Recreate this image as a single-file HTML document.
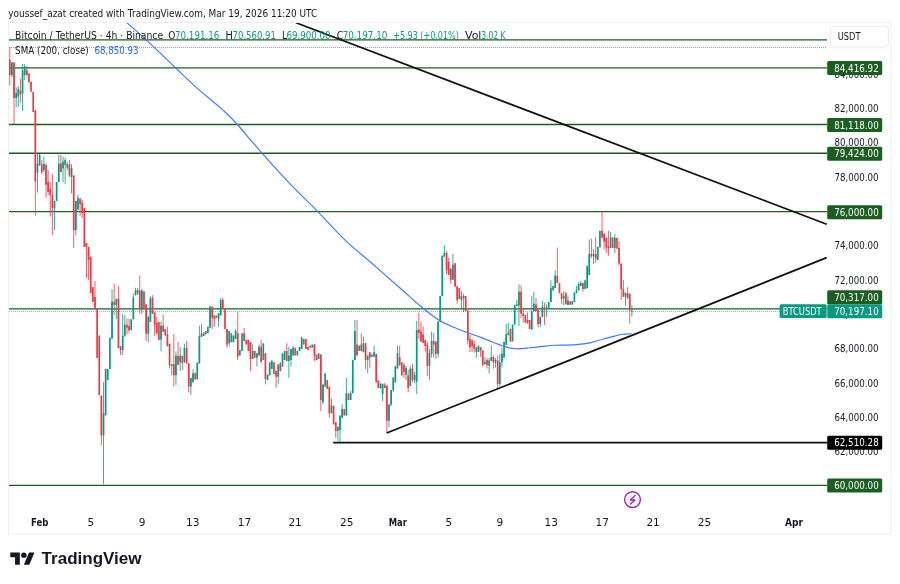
<!DOCTYPE html><html><head><meta charset="utf-8"><style>html,body{margin:0;padding:0;background:#fff;width:900px;height:584px;overflow:hidden}svg{display:block}text{font-family:'DejaVu Sans', 'Liberation Sans', sans-serif}</style></head><body>
<svg width="900" height="584" viewBox="0 0 900 584">
<rect width="900" height="584" fill="#fff"/>
<text x="8.34" y="16.9" font-size="11" fill="#131722" textLength="308.92" lengthAdjust="spacingAndGlyphs">youssef_azat created with TradingView.com, Mar 19, 2026 11:20 UTC</text>
<rect x="8.5" y="22.5" width="882.5" height="511.5" fill="none" stroke="#efefef" stroke-width="1"/>
<defs><clipPath id="cp"><rect x="9" y="23" width="818" height="484"/></clipPath></defs>
<g clip-path="url(#cp)">
<path d="M9 47.4H827" stroke="#9598a1" stroke-width="1" stroke-dasharray="1 1"/>
<path d="M9 311.5H780" stroke="#089981" stroke-opacity="0.55" stroke-width="1" stroke-dasharray="1 1"/>
<path d="M9 39.9H827" stroke="#1b5e20" stroke-width="1.4"/>
<path d="M9 67.85H827" stroke="#1b5e20" stroke-width="1.4"/>
<path d="M9 124.45H827" stroke="#1b5e20" stroke-width="1.4"/>
<path d="M9 153.2H827" stroke="#1b5e20" stroke-width="1.4"/>
<path d="M9 211.6H827" stroke="#1b5e20" stroke-width="1.4"/>
<path d="M9 308.9H827" stroke="#1b5e20" stroke-width="1.4"/>
<path d="M9 485.4H827" stroke="#1b5e20" stroke-width="1.4"/>
<path d="M333.2 442.6H827" stroke="#111" stroke-width="1.8"/>
<path d="M11.90 62.00V77.00M16.16 87.20V107.30M18.30 86.00V107.00M22.56 64.00V111.00M24.69 64.00V80.00M37.47 154.00V192.50M39.60 154.00V166.00M43.86 156.60V172.00M54.51 201.00V230.00M58.77 154.80V182.00M63.04 156.60V182.00M65.17 157.40V184.00M67.30 162.00V170.00M71.56 164.00V193.40M75.82 201.00V235.30M77.95 195.00V209.60M103.52 382.20V484.40M112.04 289.20V338.50M116.30 298.80V319.00M122.69 313.80V355.00M124.82 315.00V337.00M133.34 294.00V319.30M135.47 287.80V295.30M137.60 287.80V295.00M141.86 289.00V313.80M148.26 316.60V342.60M150.39 296.00V322.00M161.04 321.40V351.40M171.69 364.00V375.30M175.95 351.40V384.80M180.21 347.00V371.00M184.47 343.70V362.50M190.87 377.90V395.00M193.00 369.30V382.20M199.39 325.70V363.40M201.52 324.00V336.80M210.04 305.50V327.80M218.56 313.30V326.70M220.69 297.80V315.50M229.21 331.10V346.70M235.61 328.90V338.90M252.65 344.40V358.90M256.91 353.30V366.70M259.04 344.40V355.50M271.82 360.00V368.90M278.22 364.40V384.40M288.87 346.70V377.80M291.00 348.90V366.70M293.13 345.50V355.50M301.65 336.70V348.90M322.96 384.40V404.40M331.48 398.90V413.30M337.87 426.70V441.10M340.00 415.50V442.20M342.13 404.40V417.80M346.39 377.80V415.50M350.65 391.10V400.00M354.91 320.00V360.00M363.44 336.70V352.20M367.70 355.50V373.30M374.09 345.50V356.70M380.48 383.00V389.00M382.61 383.80V401.30M389.00 404.40V427.00M391.13 390.00V406.00M393.26 377.60V392.00M395.39 366.30V383.00M397.52 345.70V368.40M406.05 366.00V380.00M410.31 366.00V386.00M414.57 372.00V383.00M416.70 320.80V393.80M429.48 348.80V379.60M431.61 331.60V357.40M438.00 321.50V357.40M442.26 255.00V296.00M444.40 245.20V257.00M452.92 253.70V280.00M461.44 291.00V308.00M476.35 347.20V357.70M484.87 357.00V364.20M489.14 357.80V373.40M491.27 345.30V361.00M495.53 357.80V367.60M499.79 354.20V386.30M501.92 348.00V367.60M506.18 323.90V345.00M508.31 322.70V335.30M514.70 304.40V324.40M516.83 300.00V306.10M518.96 284.30V326.00M531.75 295.80V329.60M533.88 291.80V311.30M540.27 317.00V327.30M542.40 301.00V317.00M546.66 304.40V317.00M550.92 280.30V302.00M555.18 270.40V288.00M563.70 291.00V305.00M567.96 296.20V305.00M576.49 286.00V293.30M578.62 282.40V290.40M580.75 281.00V286.00M589.27 239.50V275.00M593.53 249.00V264.20M610.57 232.00V248.10M614.84 234.00V253.20M625.49 292.80V305.70M631.88 305.10V316.50" stroke="#089981" stroke-width="0.8" fill="none"/><path d="M9.77 47.00V85.70M14.03 62.00V124.20M20.43 78.70V102.60M26.82 66.00V76.00M35.34 110.00V215.60M41.73 160.00V174.00M45.99 163.00V197.70M48.12 170.00V195.00M50.25 182.00V216.50M52.38 173.70V235.30M60.91 154.80V172.00M69.43 160.00V177.00M73.69 175.40V248.00M80.08 197.70V216.00M82.21 200.00V218.00M86.47 243.00V278.00M88.60 247.00V280.00M94.99 281.00V310.00M101.38 395.50V445.50M114.17 283.70V315.20M118.43 285.80V348.00M120.56 346.00V355.00M126.95 318.60V334.40M129.08 319.00V333.00M139.73 275.50V313.80M146.12 304.20V341.20M152.52 295.30V313.80M154.65 312.50V335.80M156.78 317.00V333.40M163.17 314.60V331.70M165.30 329.00V336.00M167.43 326.50V346.20M169.56 343.70V368.50M173.82 334.20V386.50M178.08 342.00V365.00M182.34 355.70V370.20M186.60 341.00V363.40M188.73 363.40V392.50M212.17 306.70V328.90M214.30 315.50V326.70M222.82 297.80V308.90M227.08 328.90V347.80M237.74 312.20V360.00M244.13 327.80V341.10M250.52 342.20V371.10M261.17 340.00V362.20M265.43 353.30V384.40M276.09 371.10V387.80M280.35 362.20V371.10M286.74 343.30V361.10M314.43 344.40V361.10M320.83 354.40V411.10M329.35 386.70V417.80M335.74 422.20V437.80M357.04 320.00V355.50M361.31 333.30V351.10M365.57 343.30V368.90M369.83 352.20V367.80M376.22 354.00V383.00M378.35 380.00V388.00M384.74 383.00V388.00M386.87 385.80V433.20M399.65 345.70V365.30M403.92 363.00V378.00M408.18 370.00V392.00M412.44 364.00V382.00M418.83 313.00V338.70M420.96 321.50V341.60M423.09 326.50V343.00M425.22 340.00V351.60M427.35 341.60V376.00M433.74 333.00V357.40M435.87 341.60V358.80M446.53 251.00V274.00M448.66 258.00V275.00M450.79 268.00V284.00M455.05 263.00V287.00M457.18 286.00V303.70M463.57 293.90V312.20M467.83 310.60V344.50M469.96 335.00V352.00M472.09 339.00V352.00M474.22 340.70V352.80M480.61 347.20V357.00M482.74 350.40V366.70M487.01 357.80V368.50M493.40 355.00V368.50M497.66 355.60V388.00M510.44 328.50V341.60M521.09 285.50V318.00M523.22 307.80V322.70M527.48 312.40V323.90M536.01 298.00V311.30M538.14 310.10V327.30M544.53 302.70V325.00M557.31 247.50V283.10M561.57 293.30V303.50M565.83 291.90V304.20M582.88 283.10V291.90M591.40 238.80V258.00M595.66 237.40V262.80M602.05 212.00V237.80M604.18 233.00V249.40M606.31 237.80V253.00M608.44 230.80V255.80M619.10 241.00V265.40M621.23 263.50V300.00M623.36 280.00V296.90M627.62 287.30V298.80M629.75 293.70V323.70" stroke="#f23645" stroke-width="0.8" fill="none"/><path d="M11.05 62.50h1.7V74.90h-1.7ZM15.31 93.00h1.7V98.00h-1.7ZM17.45 88.80h1.7V96.50h-1.7ZM21.71 70.20h1.7V93.40h-1.7ZM23.84 66.40h1.7V74.90h-1.7ZM36.62 163.40h1.7V172.80h-1.7ZM38.75 154.80h1.7V165.00h-1.7ZM43.01 164.00h1.7V170.00h-1.7ZM53.66 201.00h1.7V208.00h-1.7ZM55.79 182.00h1.7V201.00h-1.7ZM57.92 163.40h1.7V182.00h-1.7ZM62.19 161.70h1.7V168.50h-1.7ZM64.32 160.00h1.7V165.00h-1.7ZM66.45 164.30h1.7V167.70h-1.7ZM70.71 168.00h1.7V177.00h-1.7ZM74.97 201.00h1.7V230.00h-1.7ZM77.10 197.70h1.7V209.60h-1.7ZM102.67 413.30h1.7V435.50h-1.7ZM104.80 368.90h1.7V415.50h-1.7ZM106.93 368.90h1.7V380.00h-1.7ZM109.06 337.80h1.7V369.00h-1.7ZM111.19 301.50h1.7V338.50h-1.7ZM115.45 298.80h1.7V305.00h-1.7ZM121.84 335.80h1.7V350.00h-1.7ZM123.97 324.80h1.7V335.80h-1.7ZM130.36 319.30h1.7V330.30h-1.7ZM132.49 297.40h1.7V319.30h-1.7ZM134.62 290.50h1.7V295.30h-1.7ZM136.75 290.00h1.7V293.50h-1.7ZM141.01 290.50h1.7V309.70h-1.7ZM147.41 316.60h1.7V333.70h-1.7ZM149.54 298.00h1.7V322.00h-1.7ZM160.19 325.70h1.7V339.40h-1.7ZM170.84 364.20h1.7V366.00h-1.7ZM175.10 355.70h1.7V375.30h-1.7ZM179.36 355.70h1.7V362.50h-1.7ZM183.62 348.00h1.7V362.50h-1.7ZM190.02 377.90h1.7V386.50h-1.7ZM192.15 373.60h1.7V382.20h-1.7ZM196.41 362.50h1.7V379.60h-1.7ZM198.54 336.00h1.7V363.40h-1.7ZM200.67 333.40h1.7V336.80h-1.7ZM204.93 331.10h1.7V334.40h-1.7ZM207.06 326.70h1.7V333.30h-1.7ZM209.19 306.70h1.7V327.80h-1.7ZM217.71 313.30h1.7V318.90h-1.7ZM219.84 300.00h1.7V315.50h-1.7ZM228.36 331.10h1.7V343.30h-1.7ZM230.50 333.30h1.7V342.20h-1.7ZM232.63 335.50h1.7V342.20h-1.7ZM234.76 331.10h1.7V338.90h-1.7ZM239.02 350.00h1.7V355.50h-1.7ZM241.15 333.30h1.7V351.10h-1.7ZM251.80 351.10h1.7V358.90h-1.7ZM256.06 353.30h1.7V357.80h-1.7ZM258.19 346.70h1.7V355.50h-1.7ZM262.45 343.30h1.7V360.00h-1.7ZM266.71 374.40h1.7V380.00h-1.7ZM268.84 362.20h1.7V375.50h-1.7ZM270.97 361.10h1.7V368.90h-1.7ZM277.37 364.40h1.7V376.70h-1.7ZM281.63 353.30h1.7V366.70h-1.7ZM283.76 351.10h1.7V360.00h-1.7ZM288.02 355.50h1.7V361.10h-1.7ZM290.15 348.90h1.7V360.00h-1.7ZM292.28 347.80h1.7V355.50h-1.7ZM296.54 351.10h1.7V355.50h-1.7ZM298.67 346.70h1.7V351.10h-1.7ZM300.80 337.80h1.7V348.90h-1.7ZM311.45 344.40h1.7V347.80h-1.7ZM317.85 353.30h1.7V358.90h-1.7ZM322.11 384.40h1.7V402.20h-1.7ZM324.24 373.30h1.7V386.70h-1.7ZM330.63 405.50h1.7V413.30h-1.7ZM337.02 426.70h1.7V431.10h-1.7ZM339.15 415.50h1.7V430.00h-1.7ZM341.28 408.90h1.7V417.80h-1.7ZM345.54 393.30h1.7V415.50h-1.7ZM349.80 393.30h1.7V400.00h-1.7ZM351.93 360.00h1.7V393.30h-1.7ZM354.06 331.10h1.7V360.00h-1.7ZM358.32 345.50h1.7V351.10h-1.7ZM362.59 343.30h1.7V352.20h-1.7ZM366.85 355.50h1.7V360.00h-1.7ZM371.11 354.40h1.7V356.70h-1.7ZM373.24 352.20h1.7V356.70h-1.7ZM379.63 383.80h1.7V388.00h-1.7ZM381.76 383.80h1.7V394.00h-1.7ZM388.15 404.40h1.7V420.80h-1.7ZM390.28 390.00h1.7V404.40h-1.7ZM392.41 377.60h1.7V390.00h-1.7ZM394.54 366.30h1.7V381.70h-1.7ZM396.67 353.00h1.7V368.40h-1.7ZM405.20 368.00h1.7V375.00h-1.7ZM409.46 368.40h1.7V385.80h-1.7ZM413.72 375.00h1.7V380.00h-1.7ZM415.85 330.00h1.7V381.70h-1.7ZM428.63 353.00h1.7V366.00h-1.7ZM430.76 340.90h1.7V353.80h-1.7ZM437.15 321.50h1.7V353.80h-1.7ZM439.28 296.00h1.7V322.00h-1.7ZM441.41 256.00h1.7V296.00h-1.7ZM443.55 253.00h1.7V256.40h-1.7ZM452.07 264.70h1.7V279.70h-1.7ZM460.59 296.00h1.7V300.00h-1.7ZM475.50 347.20h1.7V352.00h-1.7ZM477.63 345.50h1.7V352.00h-1.7ZM484.02 361.80h1.7V364.20h-1.7ZM488.29 360.50h1.7V365.80h-1.7ZM490.42 357.00h1.7V361.00h-1.7ZM494.68 360.00h1.7V362.70h-1.7ZM498.94 362.30h1.7V384.10h-1.7ZM501.07 353.40h1.7V362.30h-1.7ZM503.20 341.80h1.7V357.80h-1.7ZM505.33 334.20h1.7V345.00h-1.7ZM507.46 332.50h1.7V335.30h-1.7ZM511.72 324.40h1.7V341.60h-1.7ZM513.85 305.50h1.7V324.40h-1.7ZM515.98 304.40h1.7V306.10h-1.7ZM518.11 291.80h1.7V305.50h-1.7ZM530.90 311.30h1.7V329.60h-1.7ZM533.03 303.80h1.7V311.30h-1.7ZM539.42 317.00h1.7V323.90h-1.7ZM541.55 306.70h1.7V317.00h-1.7ZM545.81 307.20h1.7V309.00h-1.7ZM547.94 302.00h1.7V307.80h-1.7ZM550.07 288.30h1.7V302.00h-1.7ZM552.20 286.00h1.7V290.60h-1.7ZM554.33 275.50h1.7V288.00h-1.7ZM562.85 296.00h1.7V298.40h-1.7ZM567.11 300.60h1.7V305.00h-1.7ZM571.38 301.30h1.7V304.70h-1.7ZM573.51 292.60h1.7V302.00h-1.7ZM575.64 290.40h1.7V293.30h-1.7ZM577.77 283.90h1.7V290.40h-1.7ZM579.90 283.00h1.7V286.00h-1.7ZM584.16 280.20h1.7V289.00h-1.7ZM586.29 265.70h1.7V288.20h-1.7ZM588.42 254.00h1.7V275.00h-1.7ZM592.68 254.00h1.7V256.20h-1.7ZM596.94 246.80h1.7V259.90h-1.7ZM599.07 230.80h1.7V247.50h-1.7ZM609.72 237.20h1.7V248.10h-1.7ZM613.99 237.80h1.7V248.10h-1.7ZM624.64 292.80h1.7V296.70h-1.7ZM631.03 310.60h1.7V311.60h-1.7Z" fill="#089981"/><path d="M8.92 59.40h1.7V74.90h-1.7ZM13.18 62.50h1.7V98.00h-1.7ZM19.58 90.30h1.7V94.20h-1.7ZM25.97 70.20h1.7V74.90h-1.7ZM28.10 73.30h1.7V82.60h-1.7ZM30.23 81.80h1.7V91.80h-1.7ZM32.36 91.80h1.7V111.90h-1.7ZM34.49 110.40h1.7V181.40h-1.7ZM40.88 164.30h1.7V172.00h-1.7ZM45.14 165.00h1.7V184.80h-1.7ZM47.27 182.00h1.7V192.00h-1.7ZM49.40 189.00h1.7V195.00h-1.7ZM51.53 195.00h1.7V208.00h-1.7ZM60.05 163.40h1.7V172.00h-1.7ZM68.58 164.30h1.7V175.40h-1.7ZM72.84 175.40h1.7V230.20h-1.7ZM79.23 199.00h1.7V204.00h-1.7ZM81.36 202.80h1.7V213.00h-1.7ZM83.49 208.00h1.7V247.00h-1.7ZM85.62 243.00h1.7V247.00h-1.7ZM87.75 247.00h1.7V260.00h-1.7ZM89.88 256.70h1.7V293.00h-1.7ZM92.01 287.00h1.7V302.00h-1.7ZM94.14 297.00h1.7V309.00h-1.7ZM96.27 309.00h1.7V358.00h-1.7ZM98.40 335.50h1.7V395.00h-1.7ZM100.53 395.50h1.7V435.50h-1.7ZM113.32 302.00h1.7V305.00h-1.7ZM117.58 298.80h1.7V348.00h-1.7ZM119.71 346.70h1.7V350.00h-1.7ZM126.10 324.80h1.7V327.50h-1.7ZM128.23 326.00h1.7V330.30h-1.7ZM138.88 290.50h1.7V308.40h-1.7ZM143.14 291.20h1.7V309.00h-1.7ZM145.28 304.20h1.7V333.70h-1.7ZM151.67 298.00h1.7V313.80h-1.7ZM153.80 312.50h1.7V324.80h-1.7ZM155.93 323.00h1.7V333.40h-1.7ZM158.06 322.00h1.7V340.20h-1.7ZM162.32 325.70h1.7V331.70h-1.7ZM164.45 329.00h1.7V335.00h-1.7ZM166.58 334.20h1.7V346.20h-1.7ZM168.71 343.70h1.7V365.00h-1.7ZM172.97 364.20h1.7V375.30h-1.7ZM177.23 355.70h1.7V365.00h-1.7ZM181.49 355.70h1.7V362.50h-1.7ZM185.75 348.00h1.7V363.40h-1.7ZM187.88 363.40h1.7V386.50h-1.7ZM194.28 372.80h1.7V379.60h-1.7ZM202.80 332.50h1.7V336.00h-1.7ZM211.32 306.70h1.7V317.80h-1.7ZM213.45 315.50h1.7V318.90h-1.7ZM215.58 315.50h1.7V317.80h-1.7ZM221.97 300.00h1.7V308.90h-1.7ZM224.10 308.90h1.7V328.90h-1.7ZM226.23 328.90h1.7V344.40h-1.7ZM236.89 333.30h1.7V356.70h-1.7ZM243.28 333.30h1.7V341.10h-1.7ZM245.41 340.00h1.7V344.40h-1.7ZM247.54 340.00h1.7V351.10h-1.7ZM249.67 342.20h1.7V358.90h-1.7ZM253.93 351.10h1.7V357.80h-1.7ZM260.32 346.70h1.7V362.20h-1.7ZM264.58 353.30h1.7V378.90h-1.7ZM273.11 362.20h1.7V374.00h-1.7ZM275.24 371.10h1.7V376.70h-1.7ZM279.50 363.30h1.7V371.10h-1.7ZM285.89 351.10h1.7V361.10h-1.7ZM294.41 347.80h1.7V355.50h-1.7ZM302.93 338.90h1.7V344.40h-1.7ZM305.06 338.90h1.7V348.90h-1.7ZM307.19 346.70h1.7V350.00h-1.7ZM309.32 345.50h1.7V347.80h-1.7ZM313.58 344.40h1.7V355.50h-1.7ZM315.72 354.40h1.7V360.00h-1.7ZM319.98 354.40h1.7V400.00h-1.7ZM326.37 380.00h1.7V388.90h-1.7ZM328.50 386.70h1.7V413.30h-1.7ZM332.76 405.50h1.7V424.40h-1.7ZM334.89 422.20h1.7V431.10h-1.7ZM343.41 408.90h1.7V415.50h-1.7ZM347.67 393.30h1.7V400.00h-1.7ZM356.19 344.40h1.7V355.50h-1.7ZM360.46 344.40h1.7V351.10h-1.7ZM364.72 343.30h1.7V360.00h-1.7ZM368.98 352.20h1.7V357.80h-1.7ZM375.37 354.00h1.7V381.70h-1.7ZM377.50 380.70h1.7V388.00h-1.7ZM383.89 384.80h1.7V388.00h-1.7ZM386.02 385.80h1.7V420.80h-1.7ZM398.80 357.00h1.7V365.30h-1.7ZM400.94 362.20h1.7V375.60h-1.7ZM403.07 365.00h1.7V372.00h-1.7ZM407.33 375.60h1.7V388.00h-1.7ZM411.59 368.40h1.7V380.00h-1.7ZM417.98 329.40h1.7V333.00h-1.7ZM420.11 331.60h1.7V341.60h-1.7ZM422.24 334.40h1.7V343.00h-1.7ZM424.37 340.00h1.7V346.00h-1.7ZM426.50 344.50h1.7V366.00h-1.7ZM432.89 340.90h1.7V344.50h-1.7ZM435.02 341.60h1.7V353.80h-1.7ZM445.68 253.00h1.7V270.00h-1.7ZM447.81 262.00h1.7V275.00h-1.7ZM449.94 268.80h1.7V279.70h-1.7ZM454.20 263.30h1.7V286.60h-1.7ZM456.33 286.60h1.7V300.30h-1.7ZM458.46 288.00h1.7V299.00h-1.7ZM462.72 296.00h1.7V298.00h-1.7ZM464.85 296.00h1.7V311.00h-1.7ZM466.98 310.60h1.7V340.60h-1.7ZM469.11 339.00h1.7V347.20h-1.7ZM471.24 340.70h1.7V346.30h-1.7ZM473.37 344.00h1.7V348.80h-1.7ZM479.76 347.20h1.7V350.40h-1.7ZM481.89 350.40h1.7V365.00h-1.7ZM486.16 360.00h1.7V365.00h-1.7ZM492.55 357.00h1.7V362.30h-1.7ZM496.81 360.50h1.7V384.10h-1.7ZM509.59 329.00h1.7V341.60h-1.7ZM520.24 291.80h1.7V313.60h-1.7ZM522.37 313.60h1.7V316.00h-1.7ZM524.50 314.70h1.7V322.70h-1.7ZM526.63 319.90h1.7V322.70h-1.7ZM528.76 319.90h1.7V329.00h-1.7ZM535.16 304.40h1.7V311.30h-1.7ZM537.29 310.10h1.7V323.90h-1.7ZM543.68 307.20h1.7V309.00h-1.7ZM556.46 275.90h1.7V283.10h-1.7ZM558.59 283.00h1.7V293.30h-1.7ZM560.72 293.30h1.7V299.00h-1.7ZM564.98 293.30h1.7V304.20h-1.7ZM569.24 301.30h1.7V304.70h-1.7ZM582.03 283.10h1.7V289.00h-1.7ZM590.55 254.00h1.7V256.20h-1.7ZM594.81 254.00h1.7V258.40h-1.7ZM601.20 230.80h1.7V237.80h-1.7ZM603.33 234.00h1.7V241.70h-1.7ZM605.46 237.80h1.7V247.50h-1.7ZM607.59 246.00h1.7V248.00h-1.7ZM611.85 237.20h1.7V248.10h-1.7ZM616.12 237.80h1.7V248.70h-1.7ZM618.25 248.10h1.7V263.50h-1.7ZM620.38 263.50h1.7V289.20h-1.7ZM622.51 289.20h1.7V296.70h-1.7ZM626.77 293.00h1.7V298.00h-1.7ZM628.90 293.70h1.7V310.00h-1.7Z" fill="#f23645"/>
<path d="M125.6 21.7C125.9 21.9 123.9 20.2 127.2 23.1C130.6 26.0 137.7 31.9 145.7 39.3C153.7 46.7 166.6 59.4 175.2 67.5C183.8 75.6 189.2 81.0 197.1 88.1C205.0 95.2 216.1 103.9 222.7 109.9C229.3 115.9 230.5 116.9 236.9 124.0C243.3 131.1 252.3 142.2 261.3 152.3C270.3 162.4 281.4 174.8 290.8 184.7C300.2 194.6 308.8 202.4 317.8 211.6C326.8 220.8 335.6 231.1 344.8 239.9C354.0 248.7 363.8 256.3 373.0 264.3C382.2 272.3 392.1 281.1 400.0 288.0C407.9 294.9 413.8 300.6 420.3 306.0C426.8 311.4 432.9 316.4 439.2 320.2C445.5 324.0 451.0 326.1 458.0 329.0C465.0 331.9 473.6 334.7 481.4 337.6C489.2 340.5 498.9 344.7 504.7 346.6C510.5 348.5 512.1 348.6 516.3 348.8C520.5 349.0 525.7 348.2 530.0 347.8C534.3 347.4 538.1 346.8 542.2 346.4C546.3 346.0 550.3 345.5 554.4 345.3C558.5 345.1 562.6 345.2 566.7 345.1C570.8 345.0 574.8 344.8 578.9 344.4C583.0 344.0 587.0 343.5 591.1 342.6C595.2 341.7 599.2 340.1 603.3 339.0C607.4 337.9 612.3 336.7 615.6 335.9C618.9 335.1 620.2 334.6 622.9 334.3C625.5 334.0 630.1 333.9 631.5 333.8" stroke="#4178ff" stroke-width="1.15" fill="none"/>
<path d="M296 22.8L826.7 224.2" stroke="#111" stroke-width="1.7"/>
<path d="M386.7 433L826.7 257.7" stroke="#111" stroke-width="1.8"/>
</g>
<text x="15.10" y="39.3" font-size="10" fill="#131722" textLength="148.00" lengthAdjust="spacingAndGlyphs">Bitcoin / TetherUS · 4h · Binance</text>
<text x="168.30" y="39.3" font-size="10" fill="#131722" textLength="7.10" lengthAdjust="spacingAndGlyphs">O</text>
<text x="175.00" y="39.3" font-size="10" fill="#089981" textLength="44.30" lengthAdjust="spacingAndGlyphs">70,191.16</text>
<text x="225.50" y="39.3" font-size="10" fill="#131722" textLength="7.40" lengthAdjust="spacingAndGlyphs">H</text>
<text x="232.60" y="39.3" font-size="10" fill="#089981" textLength="43.20" lengthAdjust="spacingAndGlyphs">70,560.91</text>
<text x="282.10" y="39.3" font-size="10" fill="#131722" textLength="5.00" lengthAdjust="spacingAndGlyphs">L</text>
<text x="286.50" y="39.3" font-size="10" fill="#089981" textLength="44.10" lengthAdjust="spacingAndGlyphs">69,900.00</text>
<text x="336.70" y="39.3" font-size="10" fill="#131722" textLength="6.50" lengthAdjust="spacingAndGlyphs">C</text>
<text x="342.70" y="39.3" font-size="10" fill="#089981" textLength="44.60" lengthAdjust="spacingAndGlyphs">70,197.10</text>
<text x="393.20" y="39.3" font-size="10" fill="#089981" textLength="65.60" lengthAdjust="spacingAndGlyphs">+5.93 (+0.01%)</text>
<text x="465.00" y="39.3" font-size="10" fill="#131722" textLength="16.40" lengthAdjust="spacingAndGlyphs">Vol</text>
<text x="481.20" y="39.3" font-size="10" fill="#089981" textLength="24.30" lengthAdjust="spacingAndGlyphs">3.02 K</text>
<text x="15.10" y="53.6" font-size="10" fill="#131722" textLength="73.70" lengthAdjust="spacingAndGlyphs">SMA (200, close)</text>
<text x="94.40" y="53.6" font-size="10" fill="#2962ff" textLength="44.20" lengthAdjust="spacingAndGlyphs">68,850.93</text>
<text x="878.5" y="77.8" text-anchor="end" font-size="11" fill="#131722" textLength="44" lengthAdjust="spacingAndGlyphs">84,000.00</text>
<text x="878.5" y="112.1" text-anchor="end" font-size="11" fill="#131722" textLength="44" lengthAdjust="spacingAndGlyphs">82,000.00</text>
<text x="878.5" y="146.4" text-anchor="end" font-size="11" fill="#131722" textLength="44" lengthAdjust="spacingAndGlyphs">80,000.00</text>
<text x="878.5" y="180.7" text-anchor="end" font-size="11" fill="#131722" textLength="44" lengthAdjust="spacingAndGlyphs">78,000.00</text>
<text x="878.5" y="215.0" text-anchor="end" font-size="11" fill="#131722" textLength="44" lengthAdjust="spacingAndGlyphs">76,000.00</text>
<text x="878.5" y="249.4" text-anchor="end" font-size="11" fill="#131722" textLength="44" lengthAdjust="spacingAndGlyphs">74,000.00</text>
<text x="878.5" y="283.7" text-anchor="end" font-size="11" fill="#131722" textLength="44" lengthAdjust="spacingAndGlyphs">72,000.00</text>
<text x="878.5" y="318.0" text-anchor="end" font-size="11" fill="#131722" textLength="44" lengthAdjust="spacingAndGlyphs">70,000.00</text>
<text x="878.5" y="352.3" text-anchor="end" font-size="11" fill="#131722" textLength="44" lengthAdjust="spacingAndGlyphs">68,000.00</text>
<text x="878.5" y="386.6" text-anchor="end" font-size="11" fill="#131722" textLength="44" lengthAdjust="spacingAndGlyphs">66,000.00</text>
<text x="878.5" y="420.9" text-anchor="end" font-size="11" fill="#131722" textLength="44" lengthAdjust="spacingAndGlyphs">64,000.00</text>
<text x="878.5" y="455.2" text-anchor="end" font-size="11" fill="#131722" textLength="44" lengthAdjust="spacingAndGlyphs">62,000.00</text>
<text x="878.5" y="489.5" text-anchor="end" font-size="11" fill="#131722" textLength="44" lengthAdjust="spacingAndGlyphs">60,000.00</text>
<rect x="830.3" y="26.5" width="58" height="20.5" rx="3" fill="#fff" stroke="#e0e3eb" stroke-width="0.8"/>
<text x="837.8" y="40" font-size="11" fill="#131722" textLength="22.7" lengthAdjust="spacingAndGlyphs">USDT</text>
<rect x="827.2" y="61.1" width="55" height="14" rx="1.5" fill="#1b5e20"/><text x="878.7" y="71.7" text-anchor="end" fill="#fff" font-size="11" textLength="44.5" lengthAdjust="spacingAndGlyphs">84,416.92</text>
<rect x="827.2" y="117.9" width="55" height="14" rx="1.5" fill="#1b5e20"/><text x="878.7" y="128.5" text-anchor="end" fill="#fff" font-size="11" textLength="44.5" lengthAdjust="spacingAndGlyphs">81,118.00</text>
<rect x="827.2" y="146.8" width="55" height="14" rx="1.5" fill="#1b5e20"/><text x="878.7" y="157.4" text-anchor="end" fill="#fff" font-size="11" textLength="44.5" lengthAdjust="spacingAndGlyphs">79,424.00</text>
<rect x="827.2" y="205.2" width="55" height="14" rx="1.5" fill="#1b5e20"/><text x="878.7" y="215.79999999999998" text-anchor="end" fill="#fff" font-size="11" textLength="44.5" lengthAdjust="spacingAndGlyphs">76,000.00</text>
<rect x="827.2" y="290.3" width="55" height="14" rx="1.5" fill="#1b5e20"/><text x="878.7" y="300.90000000000003" text-anchor="end" fill="#fff" font-size="11" textLength="44.5" lengthAdjust="spacingAndGlyphs">70,317.00</text>
<rect x="827.2" y="304.3" width="55" height="14" rx="1.5" fill="#089981"/><text x="878.7" y="314.90000000000003" text-anchor="end" fill="#fff" font-size="11" textLength="44.5" lengthAdjust="spacingAndGlyphs">70,197.10</text>
<rect x="827.2" y="435.8" width="55" height="14" rx="1.5" fill="#000"/><text x="878.7" y="446.40000000000003" text-anchor="end" fill="#fff" font-size="11" textLength="44.5" lengthAdjust="spacingAndGlyphs">62,510.28</text>
<rect x="827.2" y="478.6" width="55" height="14" rx="1.5" fill="#1b5e20"/><text x="878.7" y="489.20000000000005" text-anchor="end" fill="#fff" font-size="11" textLength="44.5" lengthAdjust="spacingAndGlyphs">60,000.00</text>
<rect x="779.6" y="304.3" width="47" height="13.6" rx="1.5" fill="#089981"/>
<text x="782.7" y="314.9" font-size="11" fill="#fff" textLength="39" lengthAdjust="spacingAndGlyphs">BTCUSDT</text>
<path d="M827 304.5V317.5" stroke="#5cc0b0" stroke-width="0.8"/>
<text x="30.97" y="525.8" font-size="10.5" font-weight="bold" fill="#131722" textLength="17.46" lengthAdjust="spacingAndGlyphs">Feb</text>
<text x="90.9" y="525.8" text-anchor="middle" font-size="10.5" fill="#131722">5</text>
<text x="142.0" y="525.8" text-anchor="middle" font-size="10.5" fill="#131722">9</text>
<text x="192.8" y="525.8" text-anchor="middle" font-size="10.5" fill="#131722">13</text>
<text x="244.4" y="525.8" text-anchor="middle" font-size="10.5" fill="#131722">17</text>
<text x="295.1" y="525.8" text-anchor="middle" font-size="10.5" fill="#131722">21</text>
<text x="346.7" y="525.8" text-anchor="middle" font-size="10.5" fill="#131722">25</text>
<text x="388.67" y="525.8" font-size="10.5" font-weight="bold" fill="#131722" textLength="18.16" lengthAdjust="spacingAndGlyphs">Mar</text>
<text x="448.9" y="525.8" text-anchor="middle" font-size="10.5" fill="#131722">5</text>
<text x="499.8" y="525.8" text-anchor="middle" font-size="10.5" fill="#131722">9</text>
<text x="551.3" y="525.8" text-anchor="middle" font-size="10.5" fill="#131722">13</text>
<text x="602.2" y="525.8" text-anchor="middle" font-size="10.5" fill="#131722">17</text>
<text x="653.1" y="525.8" text-anchor="middle" font-size="10.5" fill="#131722">21</text>
<text x="704.4" y="525.8" text-anchor="middle" font-size="10.5" fill="#131722">25</text>
<text x="784.97" y="525.8" font-size="10.5" font-weight="bold" fill="#131722" textLength="17.86" lengthAdjust="spacingAndGlyphs">Apr</text>
<circle cx="632.5" cy="499.6" r="7.9" fill="#fff" stroke="#9c27b0" stroke-width="1.4"/>
<path d="M635.1 495.5L630.3 500H635L630.5 504" fill="none" stroke="#9c27b0" stroke-width="1.35" stroke-linejoin="round" stroke-linecap="round"/>
<g transform="translate(10.3 549.7) scale(0.68)" fill="#131722"><path d="M14 22H7V11H0V4h14v18zM28 22h-8l7.5-18h8L28 22z"/><circle cx="20" cy="8" r="4"/></g>
<text x="41.6" y="564.4" font-size="16" font-weight="bold" fill="#131722" style="font-family:'Liberation Sans',sans-serif" textLength="99.9" lengthAdjust="spacingAndGlyphs">TradingView</text>
</svg></body></html>
